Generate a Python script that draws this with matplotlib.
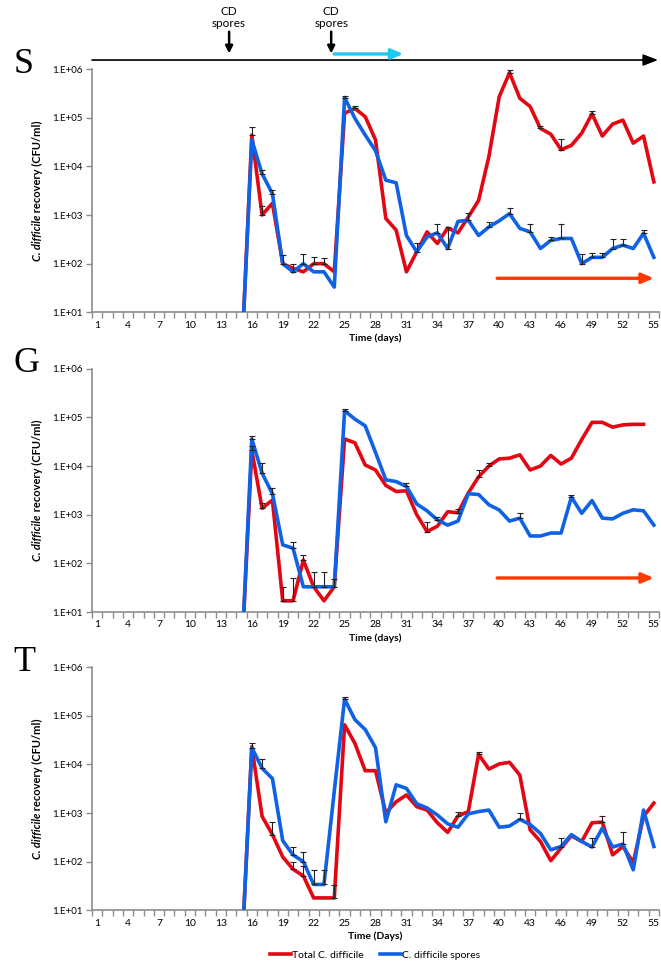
import matplotlib.pyplot as plt
import numpy as np
from matplotlib.ticker import FixedLocator, FuncFormatter, NullFormatter

plt.rcParams['font.family'] = ['Lato', 'DejaVu Sans']

# days 15..55 (days before 15 are below detection and sit under the axis)
days = np.arange(15, 56)

s_total = [1, 4.4e4, 1000, 1750, 100, 80, 68, 100, 100, 68, 1.24e5, 1.55e5, 1.05e5, 3.5e4,
           850, 490, 68, 175, 450, 260, 540, 430, 910, 2000, 1.6e4, 2.7e5, 8.4e5, 2.5e5,
           1.7e5, 6e4, 4.6e4, 2.2e4, 2.7e4, 4.8e4, 1.2e5, 4.2e4, 7.4e4, 8.9e4, 3e4, 4.2e4, 4800]
s_spores = [1, 3.5e4, 7000, 2750, 100, 68, 100, 68, 68, 33, 2.6e5, 9.7e4, 4.4e4, 2.1e4,
            5200, 4600, 380, 175, 355, 430, 205, 740, 780, 380, 570, 760, 1070, 530,
            450, 205, 300, 330, 330, 100, 135, 135, 205, 240, 205, 420, 135]

g_total = [1, 2.1e4, 1350, 2000, 17, 17, 117, 33, 17, 33, 3.6e4, 3e4, 1.05e4, 8300,
           4000, 3000, 3100, 1000, 450, 580, 1150, 1100, 2800, 6000, 1e4, 1.4e4, 1.45e4, 1.7e4,
           8300, 1e4, 1.65e4, 1.1e4, 1.45e4, 3.5e4, 7.9e4, 7.9e4, 6.3e4, 7e4, 7.2e4, 7.2e4, np.nan]
g_spores = [1, 3.6e4, 7100, 2700, 240, 205, 33, 33, 33, 33, 1.37e5, 9.2e4, 6.7e4, 1.9e4,
            5200, 4800, 3800, 1660, 1200, 780, 610, 740, 2700, 2600, 1600, 1250, 740, 850,
            365, 365, 420, 420, 2300, 1070, 1950, 850, 820, 1070, 1260, 1200, 610]

t_total = [1, 2.3e4, 850, 360, 125, 70, 51, 18, 18, 18, 6.5e4, 2.7e4, 7400, 7400,
           1000, 1700, 2350, 1350, 1150, 630, 400, 870, 1070, 1.6e4, 8000, 1.02e4, 1.1e4, 6000,
           450, 260, 105, 190, 340, 260, 630, 650, 138, 205, 96, 850, 1600]
t_spores = [1, 2.2e4, 8300, 5100, 270, 138, 100, 34, 34, 2800, 2.2e5, 8.3e4, 5.2e4, 2.2e4,
            660, 3800, 3200, 1550, 1270, 910, 600, 510, 960, 1070, 1150, 510, 540, 740,
            580, 380, 175, 205, 360, 260, 200, 490, 200, 230, 68, 1150, 205]

# upper error bars (day: error)
s_total_err = {16: 2.1e4, 17: 500, 22: 35, 23: 30, 26: 1.5e4, 41: 1e5, 44: 8e3, 46: 1.4e4, 49: 2e4}
s_spores_err = {17: 1500, 18: 450, 19: 50, 20: 30, 21: 55, 25: 2e4, 32: 85, 34: 230, 35: 365,
                37: 320, 39: 150, 41: 330, 43: 200, 45: 50, 46: 330, 48: 55, 49: 30, 50: 30,
                51: 115, 52: 80, 54: 80}
g_total_err = {16: 5e3, 17: 400, 19: 16, 20: 32, 21: 33, 33: 250, 36: 200, 38: 2100, 39: 1500}
g_spores_err = {16: 5e3, 17: 4400, 18: 900, 20: 65, 22: 33, 23: 33, 24: 15, 25: 1.5e4,
                31: 600, 34: 120, 42: 220, 47: 300}
t_total_err = {18: 300, 20: 30, 21: 29, 24: 15, 36: 200, 38: 2000, 50: 200}
t_spores_err = {16: 5e3, 17: 4700, 20: 67, 21: 60, 22: 35, 23: 35, 25: 2e4, 42: 260, 46: 95,
                49: 100, 52: 170}

panels = [
    ('S', s_total, s_spores, s_total_err, s_spores_err, 'Time (days)', True),
    ('G', g_total, g_spores, g_total_err, g_spores_err, 'Time (days)', True),
    ('T', t_total, t_spores, t_total_err, t_spores_err, 'Time (Days)', False),
]
bottoms = [0.677, 0.3671, 0.0586]

RED = '#e30613'
BLUE = '#0f62e6'
GREY = '#8c8c8c'

fig = plt.figure(figsize=(6.61, 9.67), dpi=100)
axes = []
for (letter, tot, spo, tot_err, spo_err, xlab, orange), b in zip(panels, bottoms):
    ax = fig.add_axes([0.1392, b, 0.8578, 0.2516])
    axes.append(ax)
    ax.set_yscale('log')
    ax.plot(days, tot, color=RED, lw=2.6, label='Total C. difficile', zorder=2)
    ax.plot(days, spo, color=BLUE, lw=2.6, label='C. difficile spores', zorder=3)
    for vals, err in [(tot, tot_err), (spo, spo_err)]:
        d = np.array(sorted(err))
        v = np.array([vals[k - 15] for k in d])
        e = np.array([err[k] for k in d])
        ax.errorbar(d, v, yerr=[np.zeros_like(e), e], fmt='none', ecolor='#222222',
                    elinewidth=0.8, capsize=2.2, capthick=0.8, zorder=4)
    ax.set_ylim(10, 1e6)
    ax.set_xlim(0.5, 55.5)
    ax.yaxis.set_major_locator(FixedLocator([1e1, 1e2, 1e3, 1e4, 1e5, 1e6]))
    ax.yaxis.set_major_formatter(FuncFormatter(lambda v, p: '1.E+%02d' % round(np.log10(v))))
    ax.yaxis.set_minor_formatter(NullFormatter())
    ax.tick_params(axis='y', which='minor', length=0)
    ax.tick_params(axis='y', which='major', direction='out', length=4, width=1,
                   color=GREY, labelsize=7, pad=3)
    ax.xaxis.set_major_locator(FixedLocator(np.arange(1, 56, 3)))
    ax.xaxis.set_minor_locator(FixedLocator(np.arange(0.5, 56, 1)))
    ax.tick_params(axis='x', which='major', length=0, labelsize=7.5, pad=6)
    ax.tick_params(axis='x', which='minor', direction='out', length=4, width=1, color=GREY)
    for sp in ['top', 'right']:
        ax.spines[sp].set_visible(False)
    for sp in ['left', 'bottom']:
        ax.spines[sp].set_color(GREY)
        ax.spines[sp].set_linewidth(1.2)
    ax.set_xlabel(xlab, fontsize=7.5, fontweight='bold', labelpad=3)
    ax.text(-0.138, 0.985, letter, transform=ax.transAxes, fontsize=26,
            family='Liberation Serif', ha='left', va='baseline')
    if orange:
        ax.annotate('', xy=(55.0, 0.14), xytext=(39.8, 0.14),
                    xycoords=('data', 'axes fraction'),
                    arrowprops=dict(arrowstyle='-|>,head_length=0.7,head_width=0.3',
                                    color='#ff3a00', lw=2.4, shrinkA=0, shrinkB=0))

# y labels: bold italic species name followed by bold text
renderer = fig.canvas.get_renderer()
for ax in axes:
    pos = ax.get_position()
    yc = pos.y0 + pos.height / 2
    t1 = fig.text(0.056, 0, 'C. difficile', rotation=90, fontsize=8, fontweight='bold',
                  fontstyle='italic', ha='center', va='bottom')
    t2 = fig.text(0.056, 0, ' recovery (CFU/ml)', rotation=90, fontsize=8,
                  fontweight='bold', ha='center', va='bottom')
    h1 = t1.get_window_extent(renderer).height / fig.bbox.height
    h2 = t2.get_window_extent(renderer).height / fig.bbox.height
    y0 = yc - (h1 + h2) / 2
    t1.set_y(y0)
    t2.set_y(y0 + h1)

# treatment timeline above panel S
axS = axes[0]
axS.annotate('', xy=(55.4, 1.037), xytext=(0.5, 1.037), xycoords=('data', 'axes fraction'),
             annotation_clip=False,
             arrowprops=dict(arrowstyle='-|>,head_length=0.9,head_width=0.35',
                             color='black', lw=1.2, shrinkA=0, shrinkB=0))
axS.annotate('', xy=(30.7, 1.062), xytext=(24.0, 1.062), xycoords=('data', 'axes fraction'),
             annotation_clip=False,
             arrowprops=dict(arrowstyle='-|>,head_length=0.7,head_width=0.3',
                             color='#1ec8ee', lw=2.4, shrinkA=0, shrinkB=0))
for day in [13.8, 23.7]:
    axS.annotate('CD\nspores', xy=(day, 1.064), xytext=(day, 1.165),
                 xycoords=('data', 'axes fraction'), textcoords=('data', 'axes fraction'),
                 ha='center', va='bottom', fontsize=8.5, linespacing=1.1, annotation_clip=False,
                 arrowprops=dict(arrowstyle='-|>,head_length=0.5,head_width=0.25',
                                 color='black', lw=1.8, shrinkA=0, shrinkB=0))

handles, labels = axes[2].get_legend_handles_labels()
fig.legend(handles, labels, loc='center', bbox_to_anchor=(0.567, 0.0124), ncol=2,
           frameon=False, fontsize=7.5, handlelength=2.0, handletextpad=0.1,
           columnspacing=1.6)

fig.savefig('out.png', dpi=100)
